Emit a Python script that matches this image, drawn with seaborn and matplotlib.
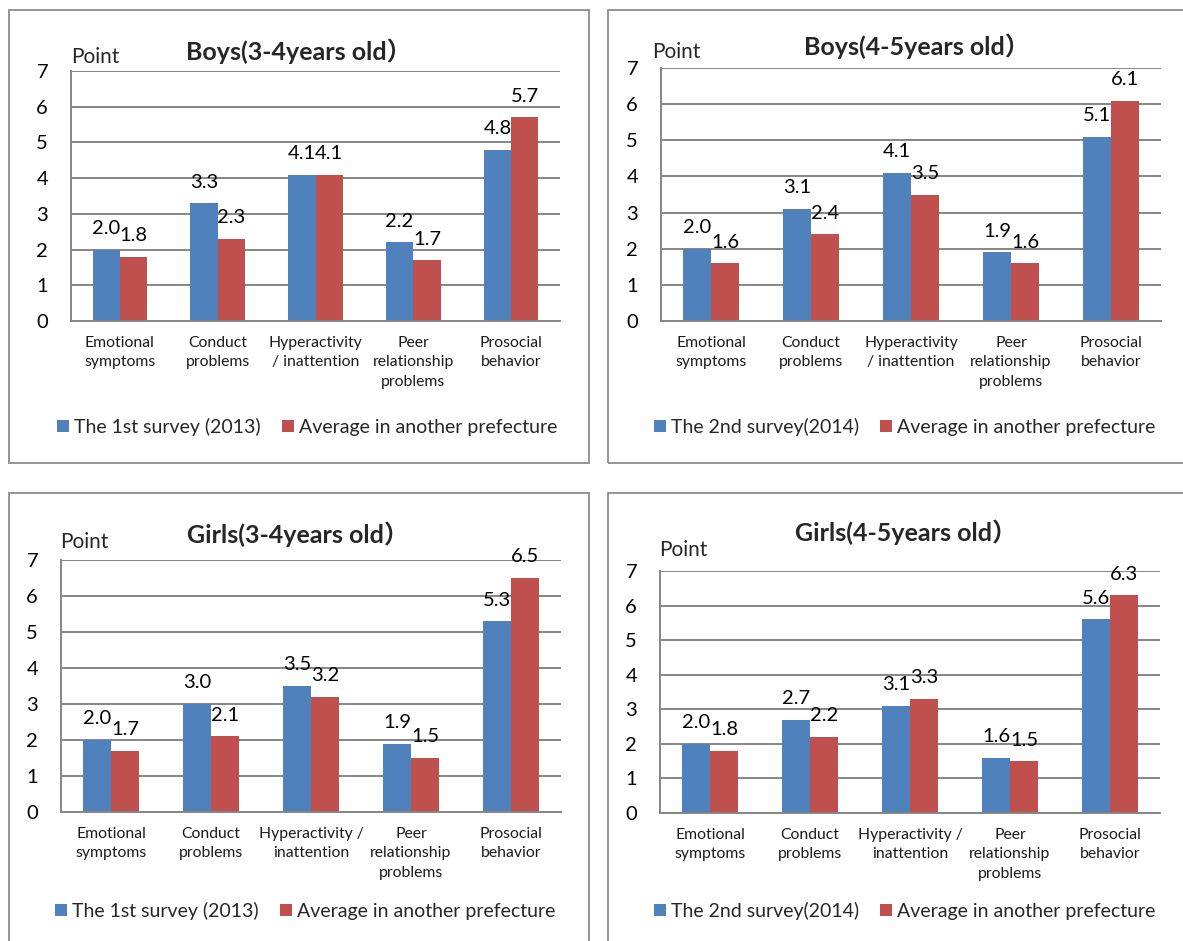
import matplotlib
matplotlib.use("Agg")
import matplotlib.pyplot as plt
from matplotlib.patches import Rectangle
import pandas as pd
import seaborn as sns

# ---- data ---------------------------------------------------------------
categories_a = ["Emotional\nsymptoms", "Conduct\nproblems", "Hyperactivity\n/ inattention",
                "Peer\nrelationship\nproblems", "Prosocial\nbehavior"]
categories_b = ["Emotional\nsymptoms", "Conduct\nproblems", "Hyperactivity /\ninattention",
                "Peer\nrelationship\nproblems", "Prosocial\nbehavior"]

series_2013 = "The 1st survey (2013)"
series_2014 = "The 2nd survey(2014)"
series_other = "Average in another prefecture"

boys_34_survey = [2.0, 3.3, 4.1, 2.2, 4.8]
boys_34_other = [1.8, 2.3, 4.1, 1.7, 5.7]
boys_45_survey = [2.0, 3.1, 4.1, 1.9, 5.1]
boys_45_other = [1.6, 2.4, 3.5, 1.6, 6.1]
girls_34_survey = [2.0, 3.0, 3.5, 1.9, 5.3]
girls_34_other = [1.7, 2.1, 3.2, 1.5, 6.5]
girls_45_survey = [2.0, 2.7, 3.1, 1.6, 5.6]
girls_45_other = [1.8, 2.2, 3.3, 1.5, 6.3]

titles = ["Boys(3-4years old）", "Boys(4-5years old）",
          "Girls(3-4years old）", "Girls(4-5years old）"]
y_ticks = [0, 1, 2, 3, 4, 5, 6, 7]
y_label = "Point"

BLUE = "#4F81BD"
RED = "#C0504D"
GRID = "#868686"
BORDER = "#8C8C8C"

# ---- figure -------------------------------------------------------------
W, H = 1183, 941
sns.set_style("white")
plt.rcParams["font.family"] = ["Lato", "Noto Sans CJK JP", "DejaVu Sans"]
fig = plt.figure(figsize=(W / 100, H / 100), dpi=100)
fig.patch.set_facecolor("white")


def fx(px):
    return px / W


def fy(py):
    return 1 - py / H


panels = [
    dict(cats=categories_a, survey=series_2013, a=boys_34_survey, b=boys_34_other, title=titles[0],
         border=(9, 10, 589, 463), axes=(71, 71, 560, 321), title_x0=186, title_y=51,
         point_xy=(71, 57), legend_xy=(57, 427)),
    dict(cats=categories_a, survey=series_2014, a=boys_45_survey, b=boys_45_other, title=titles[1],
         border=(608, 10, 1210, 463), axes=(661, 68, 1161, 321), title_x0=804, title_y=46,
         point_xy=(652, 52), legend_xy=(654, 427)),
    dict(cats=categories_b, survey=series_2013, a=girls_34_survey, b=girls_34_other, title=titles[2],
         border=(9, 493, 589, 960), axes=(61, 560, 561, 812), title_x0=187, title_y=534,
         point_xy=(60, 542), legend_xy=(55, 911)),
    dict(cats=categories_b, survey=series_2014, a=girls_45_survey, b=girls_45_other, title=titles[3],
         border=(608, 493, 1210, 960), axes=(660, 571, 1160, 813), title_x0=795, title_y=532,
         point_xy=(659, 550), legend_xy=(654, 911)),
]

for p in panels:
    bx0, by0, bx1, by1 = p["border"]
    fig.add_artist(Rectangle((fx(bx0), fy(by1)), fx(bx1 - bx0), (by1 - by0) / H,
                             transform=fig.transFigure, fill=False,
                             edgecolor=BORDER, linewidth=1.3, zorder=0))

    x0, y0, x1, y1 = p["axes"]
    ax = fig.add_axes([fx(x0), fy(y1), fx(x1 - x0), (y1 - y0) / H])

    df = pd.DataFrame({
        "category": p["cats"] * 2,
        "value": p["a"] + p["b"],
        "series": [p["survey"]] * len(p["cats"]) + [series_other] * len(p["cats"]),
    })
    sns.barplot(data=df, x="category", y="value", hue="series",
                order=p["cats"], hue_order=[p["survey"], series_other],
                palette=[BLUE, RED], saturation=1, width=0.56,
                linewidth=0, errorbar=None, ax=ax)

    for cont in ax.containers:
        ax.bar_label(cont, fmt="%.1f", padding=9.0, fontsize=14.5, color="black")

    ax.set_ylim(0, 7)
    ax.set_yticks(y_ticks)
    ax.set_xlabel("")
    ax.set_ylabel("")
    ax.yaxis.grid(True, color=GRID, linewidth=1.4)
    ax.xaxis.grid(False)
    ax.set_axisbelow(True)
    for side in ("top", "right"):
        ax.spines[side].set_visible(False)
    for side in ("left", "bottom"):
        ax.spines[side].set_color(GRID)
        ax.spines[side].set_linewidth(1.4)
    ax.tick_params(axis="y", length=0, pad=16.5, labelsize=14.5, labelcolor="black")
    ax.tick_params(axis="x", length=0, pad=10.5, labelsize=11.3, labelcolor="#1a1a1a")
    plt.setp(ax.get_xticklabels(), linespacing=1.5)

    fig.text(fx(p["point_xy"][0]), fy(p["point_xy"][1]), y_label,
             ha="left", va="center", fontsize=15)
    fig.text(fx(p["title_x0"]), fy(p["title_y"]), p["title"],
             ha="left", va="center", fontsize=18, fontweight="bold")

    lx, ly = p["legend_xy"]
    sns.move_legend(ax, loc="center left", bbox_to_anchor=(fx(lx), fy(ly)),
                    bbox_transform=fig.transFigure, ncol=2, frameon=False,
                    title=None, fontsize=14, borderpad=0, borderaxespad=0,
                    handlelength=0.62, handleheight=0.62, handletextpad=0.25,
                    columnspacing=1.1)

fig.savefig("out.png", dpi=100, facecolor="white")
